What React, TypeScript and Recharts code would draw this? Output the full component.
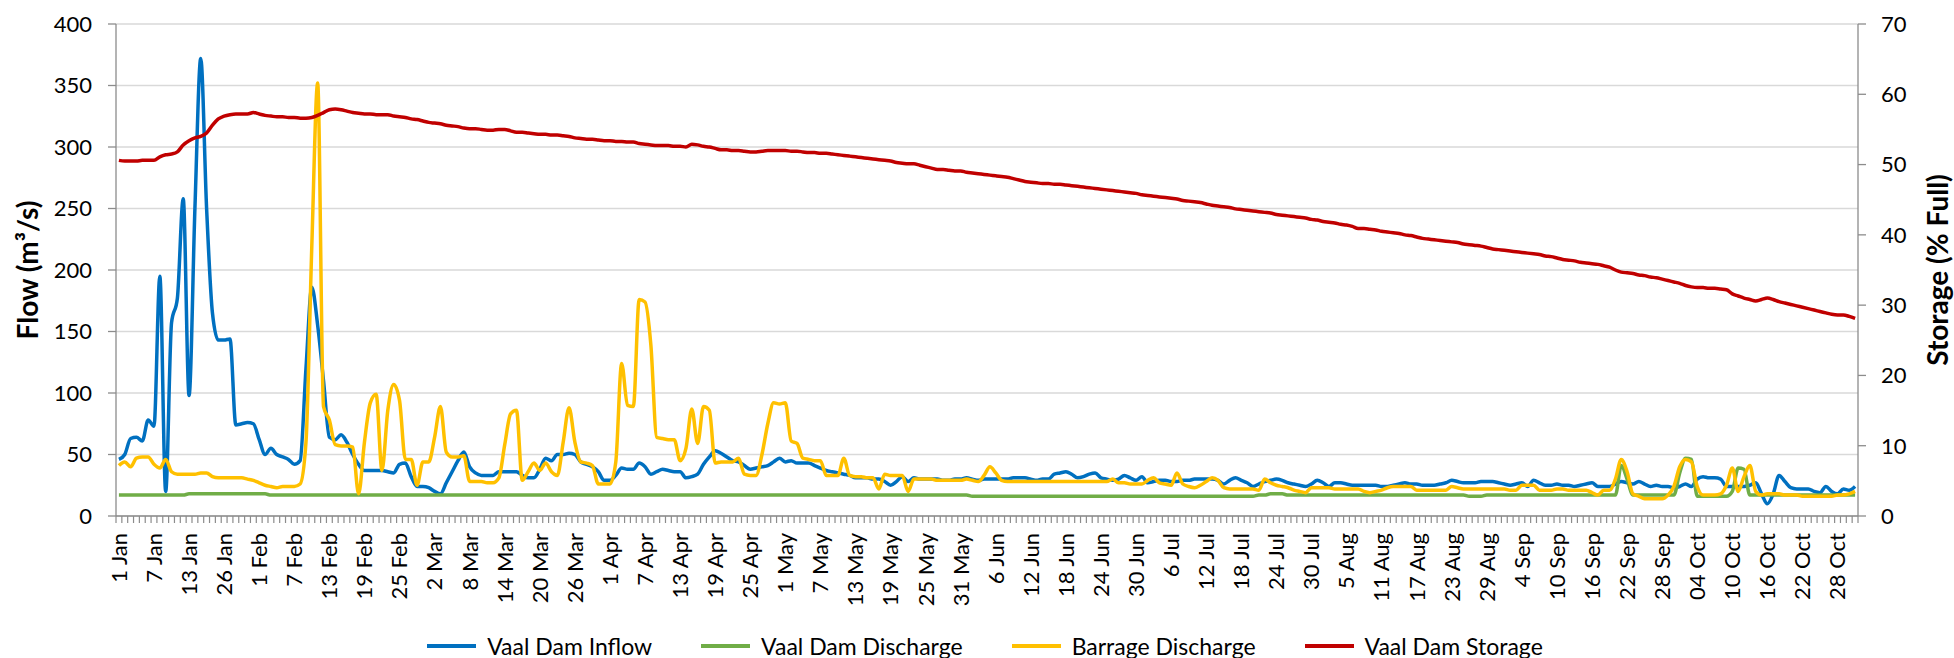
import { CartesianGrid, Legend, Line, LineChart, XAxis, YAxis } from "recharts";

// Daily record, 1 Jan - 31 Oct (leap year), 14-20 Jan missing from the record
const monthNames = ["Jan", "Feb", "Mar", "Apr", "May", "Jun", "Jul", "Aug", "Sep", "Oct"];
const monthDays = [31, 29, 31, 30, 31, 30, 31, 31, 30, 31];
const missingJanDays = [14, 15, 16, 17, 18, 19, 20];

const dates: string[] = [];
monthNames.forEach((m, mi) => {
  for (let d = 1; d <= monthDays[mi]; d++) {
    if (mi === 0 && missingJanDays.includes(d)) continue;
    const day = m === "Oct" ? String(d).padStart(2, "0") : String(d);
    dates.push(`${day} ${m}`);
  }
});

// Vaal Dam Inflow (m3/s)
const inflow = [
  46, 50, 63, 64, 61, 78, 73, 195, 20, 157,
  177, 258, 98, 250, 372, 250, 165, 143, 143, 144,
  74, 75, 76, 75, 62, 50, 55, 50, 48, 46,
  42, 45, 120, 186, 155, 110, 64, 62, 66, 60,
  50, 42, 37, 37, 37, 37, 36, 35, 42, 43,
  32, 24, 24, 23, 20, 18, 27, 36, 45, 52,
  40, 35, 33, 33, 33, 36, 36, 36, 36, 33,
  31, 31, 38, 47, 45, 50, 50, 51, 50, 44,
  42, 40, 36, 29, 29, 33, 39, 38, 38, 43,
  40, 34, 36, 38, 37, 36, 36, 31, 32, 34,
  42, 48, 53, 51, 48, 45, 44, 41, 38, 39,
  40, 41, 44, 47, 44, 45, 43, 43, 43, 41,
  39, 37, 36, 35, 34, 33, 31, 31, 31, 30,
  30, 28, 25, 28, 32, 28, 31, 30, 30, 30,
  30, 29, 29, 30, 30, 31, 30, 29, 30, 30,
  30, 30, 30, 31, 31, 31, 30, 29, 30, 30,
  34, 35, 36, 34, 31, 32, 34, 35, 31, 30,
  29, 30, 33, 31, 29, 32, 27, 28, 29, 29,
  28, 28, 29, 29, 30, 30, 30, 30, 29, 26,
  29, 31, 29, 27, 24, 26, 28, 29, 30, 29,
  27, 26, 25, 24, 26, 29, 27, 24, 27, 27,
  26, 25, 25, 25, 25, 25, 24, 24, 25, 26,
  27, 26, 26, 25, 25, 25, 26, 27, 29, 28,
  27, 27, 27, 28, 28, 28, 27, 26, 25, 26,
  27, 24, 29, 27, 25, 25, 26, 25, 25, 24,
  25, 26, 27, 24, 24, 24, 26, 28, 27, 26,
  28, 26, 24, 25, 24, 24, 23, 24, 26, 24,
  30, 32, 31, 31, 30, 24, 24, 24, 24, 25,
  27, 18, 10, 18, 33, 28, 23, 22, 22, 22,
  20, 19, 24, 20, 18, 22, 21, 24,
];

// Vaal Dam Discharge (m3/s)
const discharge = [
  17, 17, 17, 17, 17, 17, 17, 17, 17, 17,
  17, 17, 18, 18, 18, 18, 18, 18, 18, 18,
  18, 18, 18, 18, 18, 18, 17, 17, 17, 17,
  17, 17, 17, 17, 17, 17, 17, 17, 17, 17,
  17, 17, 17, 17, 17, 17, 17, 17, 17, 17,
  17, 17, 17, 17, 17, 17, 17, 17, 17, 17,
  17, 17, 17, 17, 17, 17, 17, 17, 17, 17,
  17, 17, 17, 17, 17, 17, 17, 17, 17, 17,
  17, 17, 17, 17, 17, 17, 17, 17, 17, 17,
  17, 17, 17, 17, 17, 17, 17, 17, 17, 17,
  17, 17, 17, 17, 17, 17, 17, 17, 17, 17,
  17, 17, 17, 17, 17, 17, 17, 17, 17, 17,
  17, 17, 17, 17, 17, 17, 17, 17, 17, 17,
  17, 17, 17, 17, 17, 17, 17, 17, 17, 17,
  17, 17, 17, 17, 17, 17, 16, 16, 16, 16,
  16, 16, 16, 16, 16, 16, 16, 16, 16, 16,
  16, 16, 16, 16, 16, 16, 16, 16, 16, 16,
  16, 16, 16, 16, 16, 16, 16, 16, 16, 16,
  16, 16, 16, 16, 16, 16, 16, 16, 16, 16,
  16, 16, 16, 16, 16, 17, 17, 18, 18, 18,
  17, 17, 17, 17, 17, 17, 17, 17, 17, 17,
  17, 17, 17, 17, 17, 17, 17, 17, 17, 17,
  17, 17, 17, 17, 17, 17, 17, 17, 17, 17,
  17, 16, 16, 16, 17, 17, 17, 17, 17, 17,
  17, 17, 17, 17, 17, 17, 17, 17, 17, 17,
  17, 17, 17, 17, 17, 17, 17, 41, 30, 17,
  17, 17, 17, 17, 17, 17, 17, 35, 47, 46,
  16, 16, 16, 16, 16, 16, 20, 39, 38, 17,
  17, 17, 17, 17, 17, 17, 17, 17, 17, 17,
  17, 17, 17, 17, 17, 17, 17, 17,
];

// Barrage Discharge (m3/s)
const barrage = [
  41, 44, 40, 47, 48, 48, 42, 39, 46, 36,
  34, 34, 34, 34, 35, 35, 32, 31, 31, 31,
  31, 31, 30, 29, 27, 25, 24, 23, 24, 24,
  24, 26, 60, 220, 352, 89, 78, 58, 57, 57,
  56, 18, 60, 92, 99, 37, 86, 107, 94, 46,
  46, 25, 44, 44, 64, 89, 52, 48, 48, 49,
  28, 28, 28, 27, 27, 31, 58, 83, 86, 29,
  36, 43, 37, 43, 36, 33, 60, 88, 60, 44,
  43, 41, 26, 26, 26, 44, 124, 90, 89, 176,
  174, 139, 64, 63, 62, 62, 45, 55, 87, 59,
  89, 86, 43, 44, 44, 44, 47, 34, 33, 33,
  50, 75, 92, 91, 92, 61, 59, 47, 46, 45,
  45, 33, 33, 33, 47, 33, 32, 32, 31, 31,
  22, 34, 33, 33, 33, 20, 30, 30, 30, 30,
  29, 29, 29, 29, 29, 30, 29, 28, 33, 40,
  35, 29, 28, 28, 28, 28, 28, 28, 28, 28,
  28, 28, 28, 28, 28, 28, 28, 28, 28, 28,
  30, 27, 27, 26, 26, 26, 29, 31, 27, 26,
  25, 35, 26, 24, 23, 25, 28, 31, 29, 23,
  22, 22, 22, 22, 22, 21, 30, 27, 25, 24,
  23, 21, 20, 19, 23, 23, 23, 23, 22, 22,
  22, 22, 22, 20, 19, 20, 21, 23, 24, 24,
  24, 24, 21, 21, 21, 21, 21, 21, 24, 23,
  22, 22, 22, 22, 22, 22, 22, 22, 21, 21,
  25, 25, 25, 21, 21, 21, 22, 22, 21, 21,
  21, 21, 19, 17, 21, 21, 30, 46, 36, 18,
  16, 14, 14, 14, 14, 17, 24, 40, 46, 44,
  24, 17, 17, 17, 18, 25, 39, 20, 32, 41,
  20, 17, 18, 18, 18, 17, 17, 17, 16, 16,
  16, 16, 16, 16, 17, 17, 18, 20,
];

// Vaal Dam Storage (% full)
const storage = [
  50.6, 50.5, 50.5, 50.5, 50.6, 50.6, 50.6, 51.1, 51.4, 51.5,
  51.8, 52.8, 53.4, 53.8, 54.0, 54.5, 55.6, 56.5, 56.9, 57.1,
  57.2, 57.2, 57.2, 57.4, 57.2, 57.0, 56.9, 56.8, 56.8, 56.7,
  56.7, 56.6, 56.6, 56.7, 57.0, 57.4, 57.8, 57.9, 57.8, 57.6,
  57.4, 57.3, 57.2, 57.2, 57.1, 57.1, 57.1, 56.9, 56.8, 56.7,
  56.5, 56.4, 56.2, 56.0, 55.9, 55.8, 55.6, 55.5, 55.4, 55.2,
  55.1, 55.1, 55.0, 54.9, 54.9, 55.0, 55.0, 54.8, 54.6, 54.6,
  54.5, 54.4, 54.3, 54.3, 54.2, 54.2, 54.1, 54.0, 53.8, 53.7,
  53.6, 53.6, 53.5, 53.4, 53.4, 53.3, 53.3, 53.2, 53.2, 53.0,
  52.9, 52.8, 52.7, 52.7, 52.7, 52.6, 52.6, 52.5, 52.9, 52.8,
  52.6, 52.5, 52.3, 52.1, 52.1, 52.0, 52.0, 51.9, 51.8, 51.8,
  51.9, 52.0, 52.0, 52.0, 52.0, 51.9, 51.9, 51.8, 51.7, 51.7,
  51.6, 51.6, 51.5, 51.4, 51.3, 51.2, 51.1, 51.0, 50.9, 50.8,
  50.7, 50.6, 50.5, 50.3, 50.2, 50.1, 50.1, 49.9, 49.7, 49.5,
  49.3, 49.3, 49.2, 49.1, 49.1, 48.9, 48.8, 48.7, 48.6, 48.5,
  48.4, 48.3, 48.2, 48.0, 47.8, 47.6, 47.5, 47.4, 47.3, 47.3,
  47.2, 47.2, 47.1, 47.0, 46.9, 46.8, 46.7, 46.6, 46.5, 46.4,
  46.3, 46.2, 46.1, 46.0, 45.9, 45.7, 45.6, 45.5, 45.4, 45.3,
  45.2, 45.1, 44.9, 44.8, 44.7, 44.6, 44.4, 44.2, 44.1, 44.0,
  43.9, 43.7, 43.6, 43.5, 43.4, 43.3, 43.2, 43.1, 42.9, 42.8,
  42.7, 42.6, 42.5, 42.4, 42.2, 42.1, 41.9, 41.8, 41.7, 41.5,
  41.4, 41.2, 40.9, 40.9, 40.8, 40.7, 40.5, 40.4, 40.3, 40.2,
  40.0, 39.9, 39.7, 39.5, 39.4, 39.3, 39.2, 39.1, 39.0, 38.9,
  38.7, 38.6, 38.5, 38.4, 38.2, 38.0, 37.9, 37.8, 37.7, 37.6,
  37.5, 37.4, 37.3, 37.2, 37.0, 36.9, 36.7, 36.5, 36.4, 36.3,
  36.1, 36.0, 35.9, 35.8, 35.6, 35.4, 35.0, 34.7, 34.6, 34.5,
  34.3, 34.2, 34.0, 33.9, 33.7, 33.5, 33.3, 33.1, 32.8, 32.6,
  32.5, 32.5, 32.4, 32.4, 32.3, 32.2, 31.6, 31.3, 31.0, 30.8,
  30.6, 30.8, 31.0, 30.8, 30.5, 30.3, 30.1, 29.9, 29.7, 29.5,
  29.3, 29.1, 28.9, 28.7, 28.6, 28.6, 28.4, 28.1,
];

const flowTicks = [0, 50, 100, 150, 200, 250, 300, 350, 400];
const storageTicks = [0, 10, 20, 30, 40, 50, 60, 70];

const series = [
  { key: "inflow", name: "Vaal Dam Inflow", color: "#0070C0", axis: "left" },
  { key: "discharge", name: "Vaal Dam Discharge", color: "#70AD47", axis: "left" },
  { key: "barrage", name: "Barrage Discharge", color: "#FFC000", axis: "left" },
  { key: "storage", name: "Vaal Dam Storage", color: "#C00000", axis: "right" },
];

const data = dates.map((date, i) => ({
  date,
  inflow: inflow[i],
  discharge: discharge[i],
  barrage: barrage[i],
  storage: storage[i],
}));

const FONT = "Lato, 'Open Sans', sans-serif";
const AXIS_GREY = "#8c8c8c";
const W = 1954;
const H = 658;
const PLOT_LEFT = 116;
const PLOT_RIGHT = 1858;
const BAND = (PLOT_RIGHT - PLOT_LEFT) / dates.length;

const DateTick = (props: any) => {
  const { x, y, payload, index } = props;
  const axisY = y - 17;
  const half = BAND / 2;
  return (
    <g>
      <line x1={x - half} x2={x - half} y1={axisY} y2={axisY + 7} stroke={AXIS_GREY} strokeWidth={1.2} />
      {index === dates.length - 1 && (
        <line x1={x + half} x2={x + half} y1={axisY} y2={axisY + 7} stroke={AXIS_GREY} strokeWidth={1.2} />
      )}
      {index % 6 === 0 && (
        <text
          x={x}
          y={y}
          dy="0.36em"
          textAnchor="end"
          transform={`rotate(-90 ${x} ${y})`}
          fontSize={22}
          fontFamily={FONT}
          fill="#000"
        >
          {payload.value}
        </text>
      )}
    </g>
  );
};

const axisTitle = (text: string, x: number) => (props: any) => {
  const vb = props.viewBox || { y: 24, height: 492 };
  const cy = vb.y + vb.height / 2;
  return (
    <text
      x={x}
      y={cy}
      textAnchor="middle"
      dominantBaseline="central"
      transform={`rotate(-90 ${x} ${cy})`}
      fontSize={28}
      fontWeight={700}
      fontFamily={FONT}
      fill="#000"
    >
      {text}
    </text>
  );
};

const LegendRow = () => (
  <div
    style={{
      display: "flex",
      justifyContent: "center",
      alignItems: "center",
      height: 24,
      paddingLeft: 16,
      fontFamily: FONT,
      fontSize: 23,
      color: "#000",
    }}
  >
    {series.map((s, i) => (
      <div key={s.key} style={{ display: "flex", alignItems: "center", marginRight: i < series.length - 1 ? 49 : 0 }}>
        <svg width={49} height={6} style={{ marginRight: 11 }}>
          <line x1={0} x2={49} y1={3} y2={3} stroke={s.color} strokeWidth={4} />
        </svg>
        <span>{s.name}</span>
      </div>
    ))}
  </div>
);

export default function App() {
  return (
    <div style={{ position: "absolute", left: 0, top: 0, width: W, height: H, background: "#fff" }}>
      <LineChart width={W} height={H} data={data} margin={{ top: 24, right: 0, bottom: 0, left: 0 }}>
        <CartesianGrid yAxisId="left" vertical={false} stroke="#d9d9d9" strokeWidth={1.3} />
        <XAxis
          dataKey="date"
          scale="band"
          interval={0}
          tickLine={false}
          tickSize={7}
          tickMargin={10}
          height={118}
          axisLine={{ stroke: AXIS_GREY, strokeWidth: 1.3 }}
          tick={DateTick}
        />
        <YAxis
          yAxisId="left"
          domain={[0, 400]}
          ticks={flowTicks}
          width={PLOT_LEFT}
          tickSize={8}
          tickMargin={16}
          axisLine={{ stroke: AXIS_GREY, strokeWidth: 1.3 }}
          tickLine={{ stroke: AXIS_GREY, strokeWidth: 1.3 }}
          tick={{ fontSize: 22, fontFamily: FONT, fill: "#000" }}
          label={{ content: axisTitle("Flow (m³/s)", 27) }}
        />
        <YAxis
          yAxisId="right"
          orientation="right"
          domain={[0, 70]}
          ticks={storageTicks}
          width={W - PLOT_RIGHT}
          tickSize={8}
          tickMargin={15}
          axisLine={{ stroke: AXIS_GREY, strokeWidth: 1.3 }}
          tickLine={{ stroke: AXIS_GREY, strokeWidth: 1.3 }}
          tick={{ fontSize: 22, fontFamily: FONT, fill: "#000" }}
          label={{ content: axisTitle("Storage (% Full)", 1937) }}
        />
        <Legend verticalAlign="bottom" height={24} content={() => <LegendRow />} />
        {series.map((s) => (
          <Line
            key={s.key}
            yAxisId={s.axis}
            dataKey={s.key}
            name={s.name}
            type="monotone"
            stroke={s.color}
            strokeWidth={3.5}
            dot={false}
            activeDot={false}
            isAnimationActive={false}
          />
        ))}
      </LineChart>
    </div>
  );
}
